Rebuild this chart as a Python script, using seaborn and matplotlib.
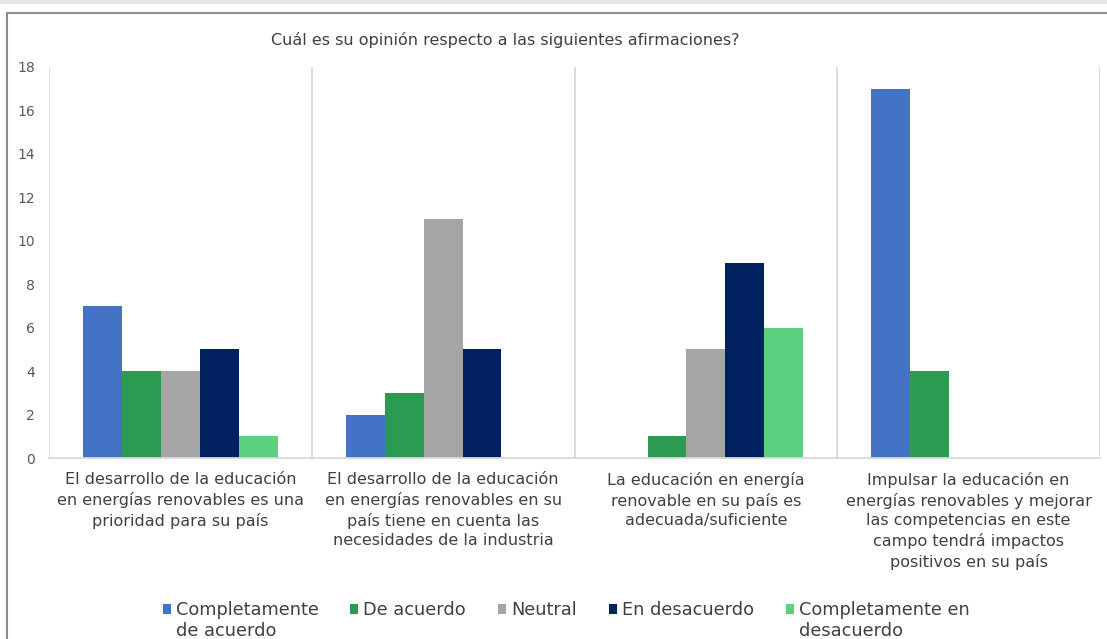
import matplotlib
matplotlib.use("Agg")
import matplotlib.pyplot as plt
import seaborn as sns
import pandas as pd
from matplotlib.patches import Rectangle, Patch

categories = [
    "El desarrollo de la educación\nen energías renovables es una\nprioridad para su país",
    "El desarrollo de la educación\nen energías renovables en su\npaís tiene en cuenta las\nnecesidades de la industria",
    "La educación en energía\nrenovable en su país es\nadecuada/suficiente",
    "Impulsar la educación en\nenergías renovables y mejorar\nlas competencias en este\ncampo tendrá impactos\npositivos en su país",
]
series = ["Completamente de acuerdo", "De acuerdo", "Neutral", "En desacuerdo", "Completamente en desacuerdo"]
legend_first = ["Completamente", "De acuerdo", "Neutral", "En desacuerdo", "Completamente en"]
legend_second = ["de acuerdo", "", "", "", "desacuerdo"]
completamente_de_acuerdo = [7, 2, 0, 17]
de_acuerdo = [4, 3, 1, 4]
neutral = [4, 11, 5, 0]
en_desacuerdo = [5, 5, 9, 0]
completamente_en_desacuerdo = [1, 0, 6, 0]
colors = ["#4472C4", "#2A9B50", "#A5A5A5", "#002060", "#5BD17F"]
title = "Cuál es su opinión respecto a las siguientes afirmaciones?"

values = [completamente_de_acuerdo, de_acuerdo, neutral, en_desacuerdo, completamente_en_desacuerdo]
rows = []
for s, vals in zip(series, values):
    for c, v in zip(categories, vals):
        rows.append({"cat": c, "serie": s, "val": v})
df = pd.DataFrame(rows)

sns.set_theme(style="white")
plt.rcParams["font.family"] = ["DejaVu Sans"]

fig = plt.figure(figsize=(11.07, 6.39), dpi=100)
ax = fig.add_axes([49/1107, (639-458)/639, (1100-49)/1107, (458-67)/639])

sns.barplot(data=df, x="cat", y="val", hue="serie", order=categories, hue_order=series,
            palette=colors, width=0.74, gap=0, linewidth=0, saturation=1, ax=ax, legend=False)

ax.set_xlim(-0.5, 3.5)
ax.set_ylim(0, 18)
ax.set_yticks(range(0, 19, 2))
ax.set_xlabel("")
ax.set_ylabel("")
for x in [-0.5, 0.5, 1.5, 2.5, 3.5]:
    ax.axvline(x, color="#D9D9D9", lw=1.3, zorder=0)
for sp in ["top", "right", "left"]:
    ax.spines[sp].set_visible(False)
ax.spines["bottom"].set_color("#D9D9D9")
ax.spines["bottom"].set_linewidth(1.3)
ax.tick_params(axis="y", length=0, labelsize=10, labelcolor="#595959", pad=10)
ax.tick_params(axis="x", length=0, labelsize=11.5, labelcolor="#404040", pad=10)
for lab in ax.get_xticklabels():
    lab.set_linespacing(1.38)

fig.text(505/1107, 1 - 40/639, title, ha="center", va="center", fontsize=11.5, color="#404040")

handles = [Patch(facecolor=c, edgecolor="none") for c in colors]
leg = fig.legend(handles, legend_first, loc="center", bbox_to_anchor=(566/1107, 1 - 610/639),
                 ncol=5, frameon=False, fontsize=12.8, handlelength=0.45, handleheight=0.5,
                 handletextpad=0.28, columnspacing=1.8, labelcolor="#404040",
                 borderpad=0, borderaxespad=0)

fig.canvas.draw()
inv = fig.transFigure.inverted()
for t, extra in zip(leg.get_texts(), legend_second):
    if extra:
        bb = t.get_window_extent()
        x0, yc = inv.transform((bb.x0, (bb.y0 + bb.y1) / 2 - 21))
        fig.text(x0, yc, extra, ha="left", va="center", fontsize=12.8, color="#404040")

# outer frame
fig.patches.append(Rectangle((0, 1 - 4/639), 1, 4/639, transform=fig.transFigure,
                             facecolor="#E6E6E6", edgecolor="none", zorder=-1))
fig.add_artist(plt.Line2D([7/1107, 1], [1 - 13/639, 1 - 13/639], transform=fig.transFigure,
                          color="#8C8C8C", lw=1.5))
fig.add_artist(plt.Line2D([7/1107, 7/1107], [0, 1 - 13/639], transform=fig.transFigure,
                          color="#8C8C8C", lw=1.5))

fig.savefig("out.png", dpi=100)
